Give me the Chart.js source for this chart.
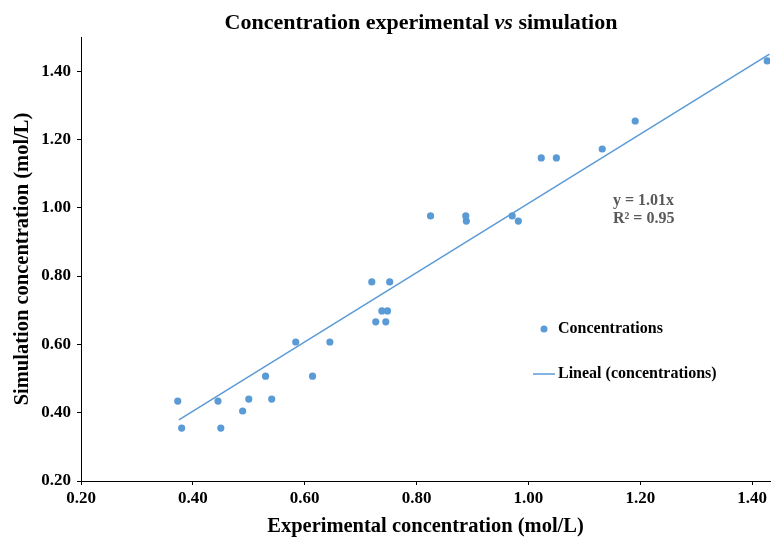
<!DOCTYPE html>
<html><head><meta charset="utf-8">
<script src="https://cdn.jsdelivr.net/npm/chart.js@4/dist/chart.umd.min.js"></script>
<style>html,body{margin:0;padding:0;background:#fff;}#wrap{width:774px;height:541px;position:relative;}</style>
</head><body><div id="wrap"><canvas id="c" width="774" height="541"></canvas></div>
<script>
// Experimental (x) vs simulated (y) concentrations, mol/L
const expX = [0.373, 0.380, 0.445, 0.450, 0.489, 0.500, 0.530, 0.541, 0.584, 0.614, 0.645,
              0.720, 0.727, 0.738, 0.745, 0.748, 0.752, 0.825, 0.888, 0.889, 0.971, 0.982,
              1.023, 1.050, 1.132, 1.191, 1.427];
const simY = [0.434, 0.355, 0.434, 0.355, 0.405, 0.440, 0.507, 0.440, 0.607, 0.507, 0.607,
              0.783, 0.666, 0.698, 0.666, 0.698, 0.783, 0.976, 0.976, 0.961, 0.976, 0.961,
              1.146, 1.146, 1.172, 1.254, 1.430];
// Trendline endpoints
const trendX = [0.375, 1.431];
const trendY = [0.379, 1.450];
const xTicks = [0.20, 0.40, 0.60, 0.80, 1.00, 1.20, 1.40];
const yTicks = [0.20, 0.40, 0.60, 0.80, 1.00, 1.20, 1.40];
const seriesLabel = "Concentrations";
const trendLabel = "Lineal (concentrations)";
const equationLines = ["y = 1.01x", "R\u00B2 = 0.95"];
const titleParts = [["Concentration experimental ", "bold"], ["vs", "italic bold"], [" simulation", "bold"]];
const xTitle = "Experimental concentration (mol/L)";
const yTitle = "Simulation concentration (mol/L)";

const FONT = "'Liberation Serif','Times New Roman',serif";
const BLUE = "#5B9BD5";

const overlay = {
  id: 'overlay',
  afterDraw(chart) {
    const ctx = chart.ctx;
    ctx.save();
    // Title with mixed styles
    ctx.textBaseline = 'alphabetic';
    ctx.textAlign = 'left';
    ctx.fillStyle = '#000';
    let total = 0;
    const widths = titleParts.map(([t, s]) => { ctx.font = s + " 22px " + FONT; const w = ctx.measureText(t).width; total += w; return w; });
    let x = 421 - total / 2;
    titleParts.forEach(([t, s], i) => { ctx.font = s + " 22px " + FONT; ctx.fillText(t, x, 29); x += widths[i]; });
    // Equation
    ctx.textBaseline = 'middle';
    ctx.font = "bold 16px " + FONT;
    ctx.fillStyle = '#595959';
    ctx.fillText(equationLines[0], 613, 201);
    ctx.fillText(equationLines[1], 613, 219);
    // Legend
    const ds = chart.data.datasets;
    ctx.fillStyle = BLUE;
    ctx.beginPath(); ctx.arc(544, 329, 3.5, 0, Math.PI * 2); ctx.fill();
    ctx.strokeStyle = BLUE; ctx.lineWidth = 1.5;
    ctx.beginPath(); ctx.moveTo(533, 374); ctx.lineTo(555, 374); ctx.stroke();
    ctx.fillStyle = '#000';
    ctx.font = "bold 16px " + FONT;
    ctx.fillText(ds[0].label, 558, 329);
    ctx.fillText(ds[1].label, 558, 374);
    ctx.restore();
  }
};

const tickFont = { family: FONT, weight: 'bold', size: 17 };
const titleFont = { family: FONT, weight: 'bold', size: 20.5 };

new Chart(document.getElementById('c'), {
  type: 'scatter',
  data: {
    datasets: [
      { label: seriesLabel, data: expX.map((v, i) => ({ x: v, y: simY[i] })),
        backgroundColor: BLUE, borderColor: BLUE, pointRadius: 3.6, pointBorderWidth: 0, order: 2 },
      { label: trendLabel, type: 'line', data: trendX.map((v, i) => ({ x: v, y: trendY[i] })),
        borderColor: BLUE, borderWidth: 1.5, pointRadius: 0, fill: false, showLine: true, order: 1, clip: 8 }
    ]
  },
  options: {
    responsive: false, animation: false,
    layout: { padding: { top: 37, right: 0, left: 0, bottom: 0 } },
    plugins: { legend: { display: false }, title: { display: false }, tooltip: { enabled: false } },
    scales: {
      x: {
        type: 'linear', min: 0.2, max: 1.432,
        afterBuildTicks: s => { s.ticks = xTicks.map(v => ({ value: v })); },
        afterFit: s => { s.height = 60; },
        ticks: { callback: v => Number(v).toFixed(2), font: tickFont, color: '#000', padding: 3, maxRotation: 0, autoSkip: false },
        grid: { display: true, drawOnChartArea: false, drawTicks: true, tickLength: 4, color: '#000' },
        border: { color: '#000', width: 1 },
        title: { display: true, text: xTitle, font: titleFont, color: '#000', padding: { top: 2, bottom: 2 } }
      },
      y: {
        type: 'linear', min: 0.2, max: 1.5,
        afterBuildTicks: s => { s.ticks = yTicks.map(v => ({ value: v })); },
        afterFit: s => { s.width = 81; },
        ticks: { callback: v => Number(v).toFixed(2), font: tickFont, color: '#000', padding: 6, autoSkip: false },
        grid: { display: true, drawOnChartArea: false, drawTicks: true, tickLength: 4, color: '#000' },
        border: { color: '#000', width: 1 },
        title: { display: true, text: yTitle, font: titleFont, color: '#000', padding: { top: 10, bottom: 0 } }
      }
    }
  },
  plugins: [overlay]
});
</script></body></html>
